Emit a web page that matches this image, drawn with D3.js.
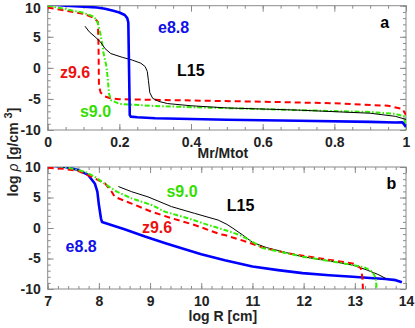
<!DOCTYPE html>
<html>
<head>
<meta charset="utf-8">
<script src="https://cdn.jsdelivr.net/npm/d3@7"></script>
<style>
  body { margin: 0; background: #fff; }
  svg { display: block; font-family: "Liberation Sans", Arial, sans-serif; font-weight: bold; }
</style>
</head>
<body>
<svg id="chart" width="415" height="328"></svg>
<script>
// ---- data ----
// panel a: log rho vs Mr/Mtot
let massE88 = [0, 0.05, 0.1, 0.137, 0.16, 0.183, 0.2, 0.215, 0.222, 0.225, 0.227, 0.229, 0.232, 0.25, 0.3, 0.5, 0.7, 0.9, 0.97, 0.99, 1.0]
let rhoE88 = [10.3, 10.0, 9.85, 9.7, 9.5, 9.17, 8.9, 8.5, 8.0, 7.3, 0, -7.6, -7.85, -7.95, -8.1, -8.35, -8.5, -8.7, -8.8, -8.75, -9.5]

let massZ96 = [0, 0.05, 0.1, 0.13, 0.14, 0.142, 0.143, 0.148, 0.16, 0.175, 0.2, 0.4, 0.6, 0.8, 0.95, 0.99, 1.0]
let rhoZ96 = [9.7, 9.2, 8.7, 8.0, 7.4, 3, -3, -4.0, -4.6, -4.9, -5.05, -5.25, -5.45, -5.7, -6.1, -6.6, -7.6]

let massS90 = [0, 0.05, 0.1, 0.13, 0.14, 0.147, 0.152, 0.156, 0.164, 0.168, 0.171, 0.177, 0.2, 0.3, 0.45, 0.7, 0.9, 0.97, 0.995, 1.0]
let rhoS90 = [10, 9.45, 8.85, 8.2, 7.2, 5.5, 3.9, 2.3, 0.2, -2, -4.1, -5.2, -5.8, -6.15, -6.4, -6.8, -7.1, -7.4, -7.8, -10.5]

let massL15 = [0.104, 0.116, 0.132, 0.147, 0.16, 0.176, 0.208, 0.236, 0.26, 0.272, 0.278, 0.281, 0.285, 0.293, 0.31, 0.335, 0.4, 0.5, 0.7, 0.9, 0.97, 1.0]
let rhoL15 = [6.7, 5.8, 5.0, 4.2, 3.1, 2.3, 1.7, 1.25, 0.75, 0.2, -0.6, -2, -4.0, -4.9, -5.4, -5.75, -6.1, -6.45, -6.8, -7.3, -7.8, -8.3]

// panel b: log rho vs log R
let radE88 = [7.0, 7.34, 7.6, 7.79, 7.92, 7.97, 8.0, 8.04, 8.06, 8.5, 8.9, 9.3, 9.68, 10.0, 10.46, 11.0, 11.5, 11.98, 12.5, 12.96, 13.3, 13.6, 13.8, 13.92]
let rhoRE88 = [10.3, 10.0, 9.5, 8.7, 7.3, 5.95, 3.8, 1.6, 1.0, -0.2, -1.4, -2.5, -3.5, -4.3, -5.3, -6.3, -6.9, -7.4, -7.75, -8.0, -8.2, -8.36, -8.55, -8.9]

let radZ96 = [7.0, 7.3, 7.6, 7.92, 8.12, 8.25, 8.31, 8.64, 9.03, 9.42, 9.87, 10.36, 10.46, 10.88, 11.2, 11.66, 12.3, 12.96, 13.12, 13.15, 13.16]
let rhoRZ96 = [9.88, 9.7, 9.35, 8.15, 7.3, 5.95, 5.1, 4.0, 2.67, 1.6, 0.5, -1.0, -1.15, -2.25, -3.2, -4.1, -4.97, -5.8, -6.6, -8.25, -10.5]

let radS90 = [7.0, 7.34, 7.73, 7.92, 8.15, 8.35, 8.64, 9.03, 9.29, 9.74, 10.1, 10.46, 10.75, 11.0, 11.2, 11.6, 11.98, 12.5, 12.96, 13.2, 13.35, 13.41, 13.43]
let rhoRS90 = [10.3, 10.0, 9.2, 8.4, 7.05, 5.95, 4.85, 3.77, 2.67, 1.6, 0.6, -0.33, -1.15, -2.25, -3.3, -4.0, -4.7, -5.4, -6.07, -6.5, -7.2, -8.25, -10.5]

let radL15 = [8.38, 8.64, 8.96, 9.42, 9.87, 10.33, 10.5, 10.62, 10.81, 11.0, 11.27, 11.6, 11.98, 12.5, 12.96, 13.24, 13.45, 13.6]
let rhoRL15 = [6.8, 5.95, 5.1, 3.5, 2.4, 1.3, 0.6, -0.05, -1.15, -2.35, -3.2, -3.9, -4.7, -5.4, -6.07, -6.9, -7.6, -8.25]

let massTicks = [0, 0.2, 0.4, 0.6, 0.8, 1]
let radTicks = [7, 8, 9, 10, 11, 12, 13, 14]
let rhoTicks = [10, 5, 0, -5, -10]

let seriesNames = ["e8.8", "z9.6", "s9.0", "L15"]

let width = 415
let height = 328
let x0 = 47.7, x1 = 406
let colors = { "e8.8": "#0000ff", "z9.6": "#ff0000", "s9.0": "#33ee00", "L15": "#000000" }
let labelColors = { "e8.8": "#1010e8", "z9.6": "#ee1010", "s9.0": "#33dd00", "L15": "#000000" }

let svg = d3.select("#chart")

function zip(xs, ys) {
    return xs.map(function (v, i) { return [v, ys[i]] })
}

function drawPanel(id, top, bottom, xScale, xMajor, xMinorStep, series, labels, letter, xTitle, xTitleY) {
    let y = d3.scaleLinear().domain([-10, 10]).range([bottom, top])
    let x = xScale
    let g = svg.append("g")

    svg.append("clipPath").attr("id", "clip" + id)
        .append("rect")
        .attr("x", x0).attr("y", top)
        .attr("width", x1 - x0).attr("height", bottom - top)

    // minor ticks
    let xd = x.domain()
    let xMinor = d3.range(xd[0], xd[1] + 1e-9, xMinorStep)
    let yMinor = d3.range(-10, 10.001, 1)

    let tickCol = "#8a8a8a"
    function styleAxis(a) {
        a.select(".domain").remove()
        a.selectAll(".tick line").attr("stroke", tickCol)
        a.selectAll("text").attr("fill", "#222").style("font-size", "14px").style("font-family", "Liberation Sans, Arial, sans-serif").style("font-weight", "bold")
    }

    g.append("g").attr("transform", "translate(0," + bottom + ")")
        .call(d3.axisBottom(x).tickValues(xMinor).tickSize(-3).tickFormat(""))
        .call(styleAxis)
    g.append("g").attr("transform", "translate(0," + top + ")")
        .call(d3.axisTop(x).tickValues(xMinor).tickSize(-3).tickFormat(""))
        .call(styleAxis)
    g.append("g").attr("transform", "translate(" + x0 + ",0)")
        .call(d3.axisLeft(y).tickValues(yMinor).tickSize(-3).tickFormat(""))
        .call(styleAxis)
    g.append("g").attr("transform", "translate(" + x1 + ",0)")
        .call(d3.axisRight(y).tickValues(yMinor).tickSize(-3).tickFormat(""))
        .call(styleAxis)

    // major ticks
    g.append("g").attr("transform", "translate(0," + bottom + ")")
        .call(d3.axisBottom(x).tickValues(xMajor).tickSize(-6).tickPadding(7).tickFormat(function (d) { return String(d) }))
        .call(styleAxis)
    g.append("g").attr("transform", "translate(0," + top + ")")
        .call(d3.axisTop(x).tickValues(xMajor).tickSize(-6).tickFormat(""))
        .call(styleAxis)
    let yl = g.append("g").attr("transform", "translate(" + x0 + ",0)")
        .call(d3.axisLeft(y).tickValues(rhoTicks).tickSize(-6).tickPadding(7).tickFormat(function (d) { return String(d) }))
        .call(styleAxis)
    // keep the top label inside the page
    yl.selectAll(".tick text").filter(function (d) { return d == 10 && top < 10 }).attr("dy", "0.45em")
    g.append("g").attr("transform", "translate(" + x1 + ",0)")
        .call(d3.axisRight(y).tickValues(rhoTicks).tickSize(-6).tickFormat(""))
        .call(styleAxis)

    g.append("rect")
        .attr("x", x0).attr("y", top)
        .attr("width", x1 - x0).attr("height", bottom - top)
        .attr("fill", "none").attr("stroke", tickCol).attr("stroke-width", 1)

    let line = d3.line()
        .x(function (d) { return x(d[0]) })
        .y(function (d) { return y(d[1]) })

    let plot = g.append("g").attr("clip-path", "url(#clip" + id + ")")
    series.forEach(function (s) {
        let p = plot.append("path")
            .attr("d", line(s.pts))
            .attr("fill", "none")
            .attr("stroke", colors[s.name])
            .attr("stroke-linejoin", "round")
        if (s.name == "e8.8") p.attr("stroke-width", 2.6)
        if (s.name == "z9.6") p.attr("stroke-width", 2).attr("stroke-dasharray", "6,4")
        if (s.name == "s9.0") p.attr("stroke-width", 2).attr("stroke-dasharray", "5,2,1.5,2")
        if (s.name == "L15") p.attr("stroke-width", 1)
    })

    labels.forEach(function (l) {
        g.append("text")
            .attr("x", x(l.at[0]))
            .attr("y", y(l.at[1]))
            .attr("fill", labelColors[l.name])
            .style("font-size", "16px")
            .text(l.name)
    })

    g.append("text")
        .attr("x", x(letter.at[0]))
        .attr("y", y(letter.at[1]))
        .style("font-size", "16px")
        .text(letter.text)

    g.append("text")
        .attr("x", (x0 + x1) / 2 - 4)
        .attr("y", xTitleY)
        .attr("text-anchor", "middle")
        .style("font-size", "14px")
        .attr("fill", "#222")
        .text(xTitle)
}

let xa = d3.scaleLinear().domain([0, 1]).range([x0, x1])
drawPanel("a", 5.7, 130, xa, massTicks, 0.05, [
    { name: "z9.6", pts: zip(massZ96, rhoZ96) },
    { name: "s9.0", pts: zip(massS90, rhoS90) },
    { name: "L15", pts: zip(massL15, rhoL15) },
    { name: "e8.8", pts: zip(massE88, rhoE88) }
], [
    { name: "e8.8", at: [0.308, 5.6] },
    { name: "z9.6", at: [0.034, -1.63] },
    { name: "L15", at: [0.361, -1.3] },
    { name: "s9.0", at: [0.09, -7.9] }
], { text: "a", at: [0.928, 6.4] }, "Mr/Mtot", 158)

let xb = d3.scaleLinear().domain([7, 14]).range([x0, x1])
drawPanel("b", 167, 289, xb, radTicks, 0.2, [
    { name: "e8.8", pts: zip(radE88, rhoRE88) },
    { name: "L15", pts: zip(radL15, rhoRL15) },
    { name: "z9.6", pts: zip(radZ96, rhoRZ96) },
    { name: "s9.0", pts: zip(radS90, rhoRS90) }
], [
    { name: "s9.0", at: [9.32, 5.13] },
    { name: "z9.6", at: [8.84, -0.82] },
    { name: "e8.8", at: [7.35, -3.93] },
    { name: "L15", at: [10.5, 2.79] }
], { text: "b", at: [13.62, 6.4] }, "log R [cm]", 321)

// shared y title
let yt = svg.append("text")
    .attr("transform", "translate(18,152) rotate(-90)")
    .attr("text-anchor", "middle")
    .style("font-size", "14px")
    .attr("fill", "#222")
yt.append("tspan").text("log ")
yt.append("tspan").style("font-style", "italic").style("font-weight", "normal").text("\u03c1")
yt.append("tspan").text(" [g/cm\u00a0")
yt.append("tspan").attr("dy", -6).style("font-size", "11px").text("3")
yt.append("tspan").attr("dy", 6).text("]")
</script>
</body>
</html>
